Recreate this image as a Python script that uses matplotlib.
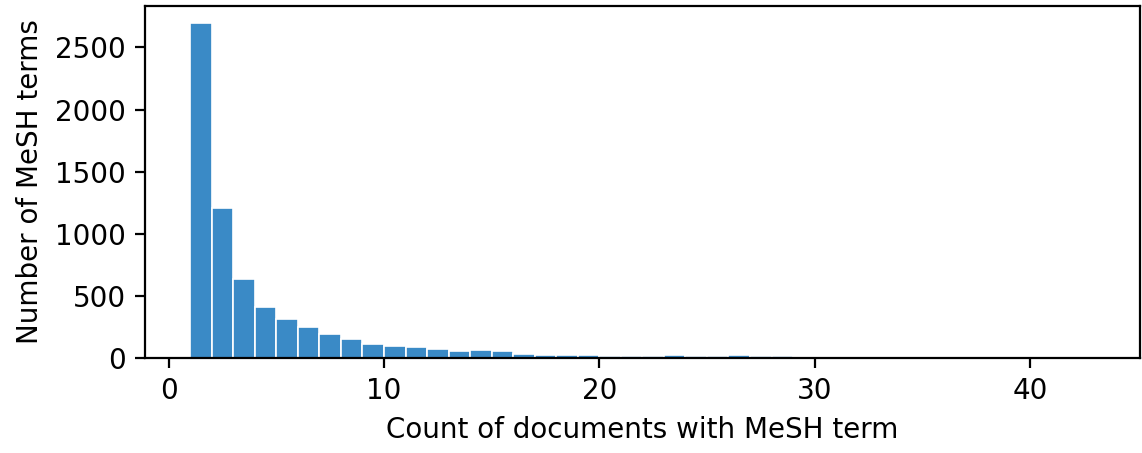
import numpy as np
import matplotlib.pyplot as plt

# bin edges: integer counts 1..43
bin_edges = np.arange(1, 44)
# number of MeSH terms per bin
n_terms = [2700, 1205, 637, 410, 313, 245, 191, 151, 108, 97,
           84, 75, 54, 65, 54, 32, 24, 24, 22, 17,
           17, 17, 27, 15, 13, 20, 15, 12, 4, 3,
           3, 8, 2, 9, 2, 2, 1, 2, 8, 1,
           1, 7]

DPI = 200
fig = plt.figure(figsize=(1142 / DPI, 453 / DPI), dpi=DPI)
ax = fig.add_axes([0.127, 0.21, 0.871, 0.777])

ax.hist(bin_edges[:-1], bins=bin_edges, weights=n_terms,
        color="#3a8ac6", edgecolor="white", linewidth=0.6)

ax.set_xlabel("Count of documents with MeSH term")
ax.set_ylabel("Number of MeSH terms")

fig.savefig("out.png", dpi=DPI)
